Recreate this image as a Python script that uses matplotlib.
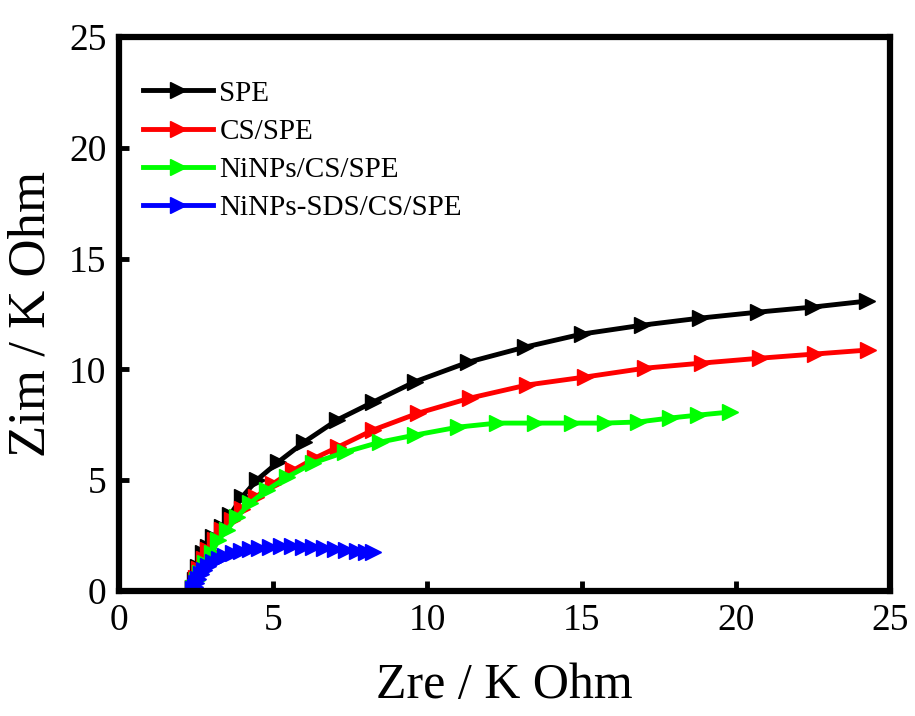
import numpy as np
import matplotlib.pyplot as plt

plt.rcParams['font.family'] = ['Liberation Serif', 'DejaVu Serif']

labels = ["SPE", "CS/SPE", "NiNPs/CS/SPE", "NiNPs-SDS/CS/SPE"]
colors = ["black", "red", "#00ff00", "blue"]

spe_x = [2.40, 2.46, 2.56, 2.72, 2.89, 3.05, 3.34, 3.60, 3.99, 4.47, 5.16, 6.0, 7.07, 8.24, 9.6,
         11.32, 13.16, 15.01, 16.96, 18.84, 20.72, 22.50, 24.25]
spe_y = [0.13, 0.5, 1.08, 1.71, 1.99, 2.44, 2.89, 3.43, 4.24, 5.01, 5.82, 6.72, 7.72, 8.53, 9.45,
         10.33, 11.01, 11.60, 12.00, 12.32, 12.59, 12.82, 13.09]

cs_x = [2.40, 2.5, 2.6, 2.75, 2.9, 3.1, 3.35, 3.65, 4.0, 4.45, 5.0, 5.65, 6.35, 7.1, 8.24,
        9.70, 11.38, 13.23, 15.11, 17.06, 18.90, 20.78, 22.57, 24.29]
cs_y = [0.15, 0.6, 1.0, 1.45, 1.85, 2.3, 2.75, 3.2, 3.7, 4.25, 4.85, 5.45, 6.0, 6.5, 7.27,
        8.03, 8.71, 9.30, 9.66, 10.06, 10.29, 10.51, 10.70, 10.88]

ni_x = [2.40, 2.53, 2.63, 2.79, 3.02, 3.21, 3.50, 3.83, 4.25, 4.80, 5.45, 6.29, 7.33, 8.46, 9.60,
        11.0, 12.26, 13.49, 14.69, 15.76, 16.83, 17.87, 18.77, 19.81]
ni_y = [0.13, 0.5, 0.81, 1.26, 1.71, 2.30, 2.75, 3.34, 3.97, 4.56, 5.14, 5.78, 6.27, 6.72, 7.04,
        7.40, 7.58, 7.58, 7.58, 7.58, 7.63, 7.81, 7.94, 8.08]

sds_x = [2.40, 2.45, 2.5, 2.55, 2.65, 2.75, 2.9, 3.05, 3.25, 3.45, 3.7, 3.95, 4.25, 4.55, 4.9,
         5.25, 5.6, 5.95, 6.3, 6.65, 7.0, 7.35, 7.7, 8.0, 8.25]
sds_y = [0.1, 0.2, 0.35, 0.55, 0.75, 0.95, 1.15, 1.3, 1.45, 1.6, 1.72, 1.82, 1.9, 1.96, 2.0,
         2.02, 2.02, 2.0, 1.97, 1.93, 1.88, 1.84, 1.8, 1.77, 1.74]

series = [(spe_x, spe_y), (cs_x, cs_y), (ni_x, ni_y), (sds_x, sds_y)]

fig = plt.figure(figsize=(9.15, 7.16), dpi=100)
ax = fig.add_axes([0.130, 0.1746, 0.843, 0.7734])

for (x, y), c, lab in zip(series, colors, labels):
    ax.plot(x, y, color=c, lw=3.5, marker='>', markersize=11, label=lab)

ax.set_xlim(0, 25)
ax.set_ylim(0, 25)
ax.set_xticks(np.arange(0, 26, 5))
ax.set_yticks(np.arange(0, 26, 5))
ax.tick_params(direction='in', length=7, width=3.5, labelsize=27, pad=9)
for s in ax.spines.values():
    s.set_linewidth(4.5)

ax.set_xlabel("Zre / K Ohm", fontsize=36, labelpad=18)
ax.set_ylabel("Zim / K Ohm", fontsize=38, labelpad=10)

ax.legend(loc='upper left', bbox_to_anchor=(-0.006, 0.975), frameon=False, fontsize=21,
          handlelength=2.4, handletextpad=0.2, labelspacing=0.4, borderaxespad=0.6)

fig.savefig("out.png", dpi=100)
